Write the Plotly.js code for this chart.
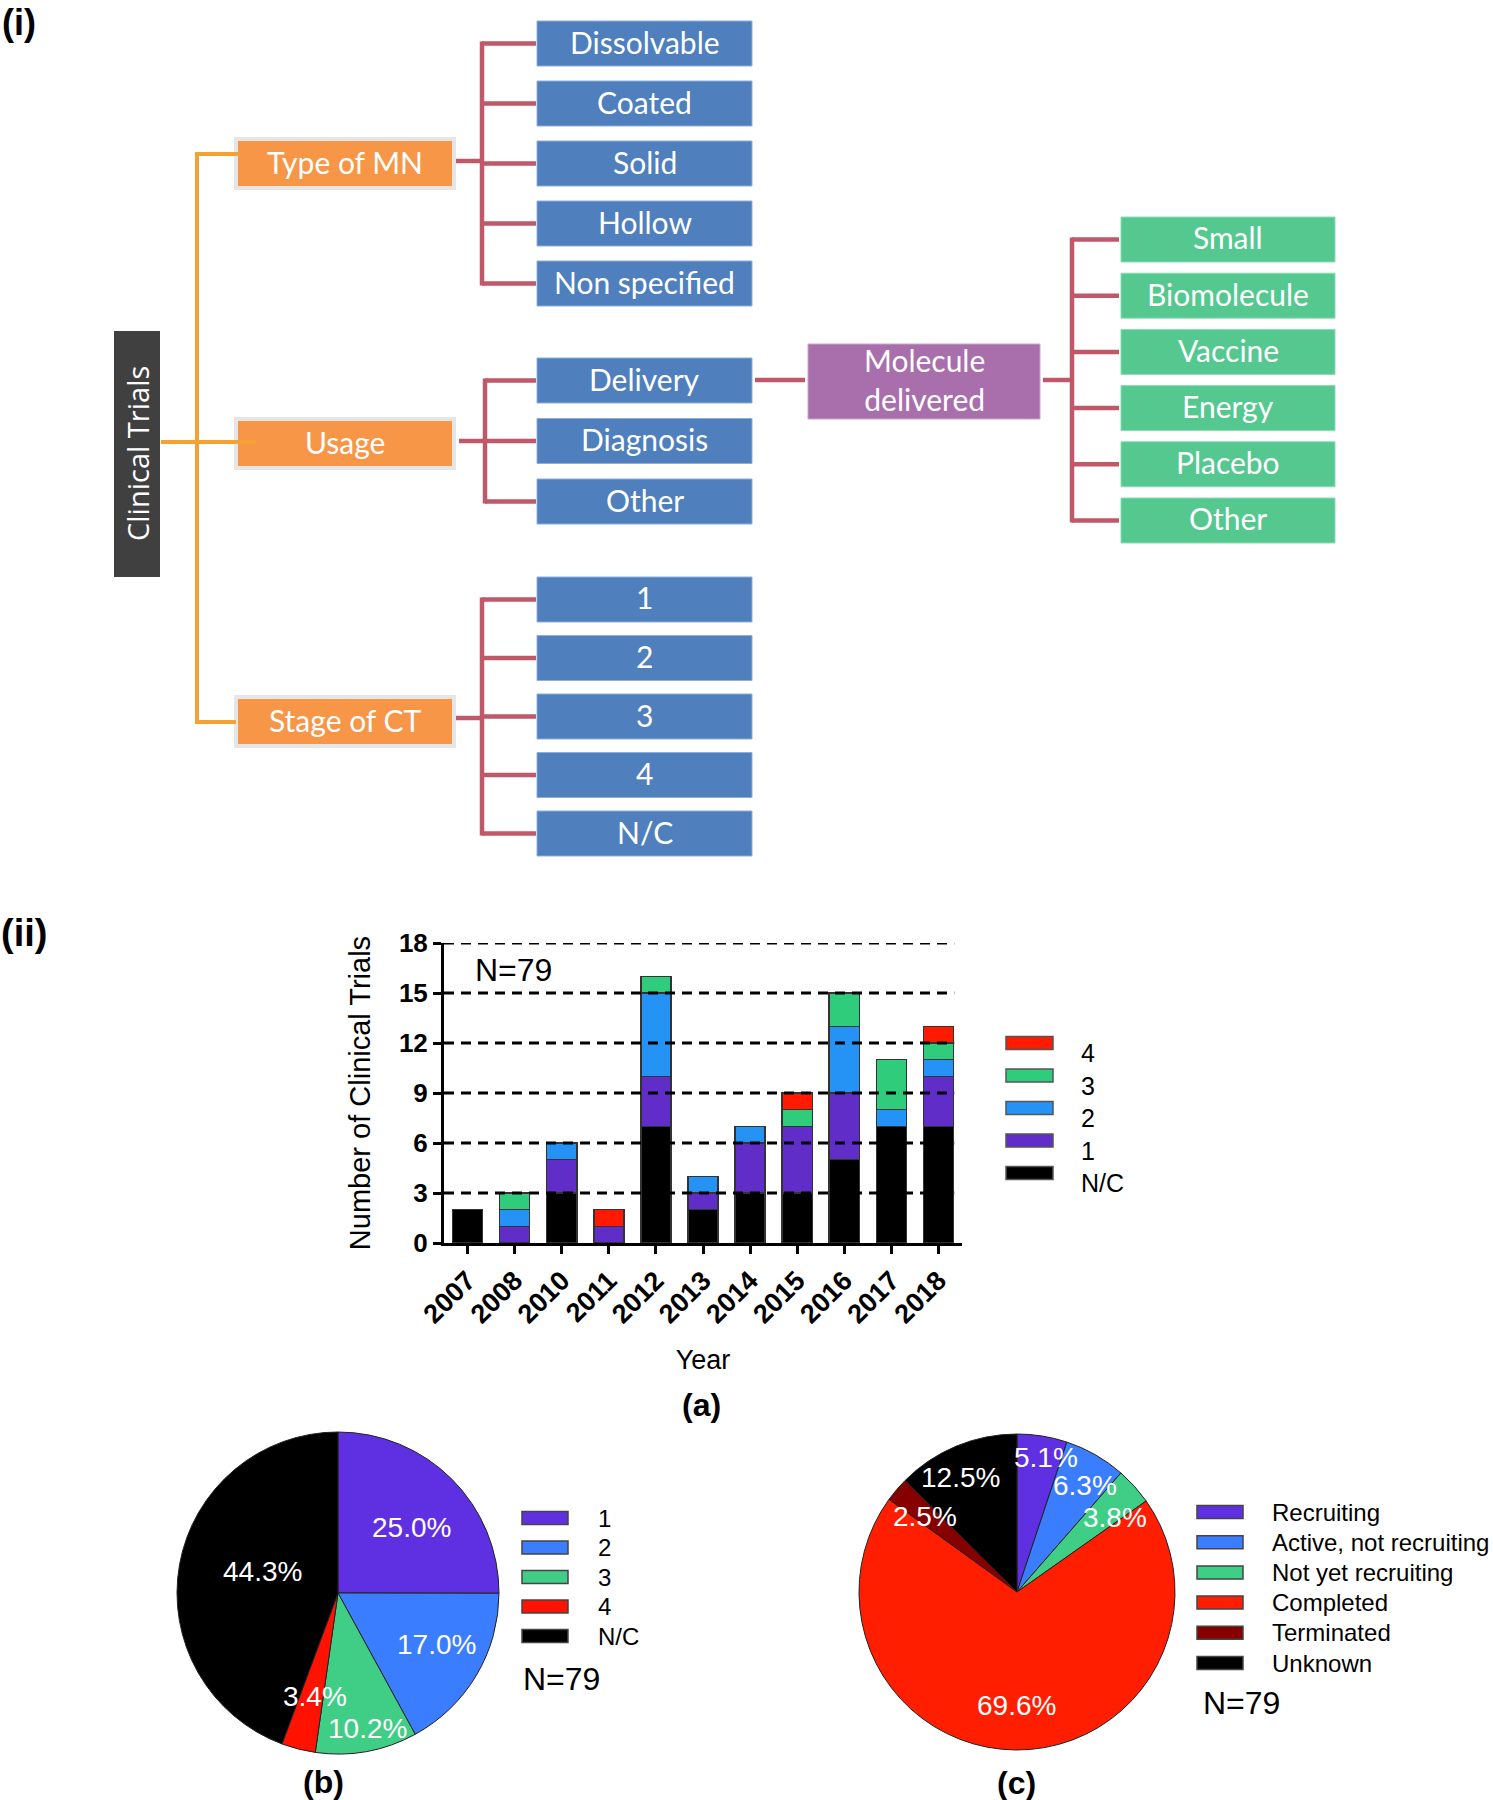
<!DOCTYPE html>
<html><head><meta charset="utf-8">
<script src="https://cdn.plot.ly/plotly-3.0.1.min.js"></script>
<style>html,body{margin:0;padding:0;background:#fff}</style>
</head><body>
<div id="chart" style="width:1493px;height:1800px"></div>
<script>
// ---------------- data ----------------
const years = ['2007','2008','2010','2011','2012','2013','2014','2015','2016','2017','2018'];
const stageNames = ['N/C','1','2','3','4'];
const stageNC = [2,0,3,0,7,2,3,3,5,7,7];
const stage1  = [0,1,2,1,3,1,3,4,4,0,3];
const stage2  = [0,1,1,0,5,1,1,0,4,1,1];
const stage3  = [0,1,0,0,1,0,0,1,2,3,1];
const stage4  = [0,0,0,1,0,0,0,1,0,0,1];
const yTicks = [0,3,6,9,12,15,18];
const pieBLabels = ['1','2','3','4','N/C'];
const pieBValues = [25.0,17.0,10.2,3.4,44.3];
const pieCLabels = ['Recruiting','Active, not recruiting','Not yet recruiting','Completed','Terminated','Unknown'];
const pieCValues = [5.1,6.3,3.8,69.6,2.5,12.5];
const nText = 'N=79';
const rootLabel = 'Clinical Trials';
const branches = ['Type of MN','Usage','Stage of CT'];
const typeItems = ['Dissolvable','Coated','Solid','Hollow','Non specified'];
const usageItems = ['Delivery','Diagnosis','Other'];
const stageItems = ['1','2','3','4','N/C'];
const moleculeLabel = 'Molecule<br>delivered';
const moleculeItems = ['Small','Biomolecule','Vaccine','Energy','Placebo','Other'];

// ---------------- styles ----------------
const barColors = ['#000000','#602DC8','#2592F5','#2ECC7B','#FF1A00'];
const pieBColors = ['#5F30E2','#3B7DFF','#40CE86','#FF1200','#000000'];
const pieCColors = ['#5F30E2','#3B7DFF','#40CE86','#FF1E00','#870000','#000000'];
// label placement inside the pies (radius fraction, angle nudge in degrees)
const pieBTextR  = [0.61,0.69,0.86,0.66,0.49];
const pieBTextDA = [3,-3,-2,-2,6];
const pieCTextR  = [0.87,0.80,0.78,0.72,0.75,0.81];
const pieCTextDA = [3,3,4.6,0,-1,-3.5];
const F = 'Liberation Sans, Arial, sans-serif';
const TF = 'Lato, Carlito, Calibri, sans-serif';

const W = 1493, H = 1800;
const X = p => p / W, Y = p => 1 - p / H;
const shapes = [], annotations = [];
function rect(x0,y0,x1,y1,fill,lineColor,lw){
  shapes.push({type:'rect',xref:'paper',yref:'paper',x0:X(x0),x1:X(x1),y0:Y(y1),y1:Y(y0),
    fillcolor:fill,line:{color:lineColor||fill,width:lw||0},layer:'above'});
}
function seg(x0,y0,x1,y1,color,w){
  shapes.push({type:'line',xref:'paper',yref:'paper',x0:X(x0),x1:X(x1),y0:Y(y0),y1:Y(y1),
    line:{color:color,width:w},layer:'above'});
}
function label(text,x,y,size,color,family,opts){
  annotations.push(Object.assign({text:text,x:X(x),y:Y(y),xref:'paper',yref:'paper',showarrow:false,
    font:{size:size,color:color,family:family},xanchor:'center',yanchor:'middle'},opts||{}));
}

// ---------------- (i) tree diagram ----------------
label('<b>(i)</b>',0,0,36,'#000',F,{xanchor:'left',yanchor:'top'});
const BLUE='#4F7FBD', BLUEB='#8DAEDB', ORANGE='#F79646', GREYB='#E6E6E6', MAROON='#BF5868', OLINE='#F4A233';
const GREEN='#55C890', PURPLE='#A86FAC';
rect(114,331,160,577,'#404040');
label(rootLabel,137,454,29,'#fff','Open Sans, Noto Sans, sans-serif',{textangle:-90});
const branchTops = [137,417,695];
branches.forEach((b,i)=>{
  const t = branchTops[i];
  rect(234,t,456,t+53,GREYB);
  rect(238,t+4,452,t+49,ORANGE);
  label(b,345,t+24.5,30,'#fff',TF);
});
function leaves(items,top0,step,x0,x1,fill,border){
  const centers=[];
  items.forEach((s,i)=>{
    const t = top0 + i*step;
    rect(x0,t,x1,t+45,fill,border,1);
    label(s,(x0+x1)/2,t+20.5,30,'#fff',TF);
    centers.push(t+22.5);
  });
  return centers;
}
const cType = leaves(typeItems,21,60,537,752,BLUE,BLUEB);
const cUse  = leaves(usageItems,358,60.5,537,752,BLUE,BLUEB);
const cStg  = leaves(stageItems,577,58.5,537,752,BLUE,BLUEB);
const cMol  = leaves(moleculeItems,217,56.2,1121,1335,GREEN,'#8BDDB5');
rect(808,344,1040,419,PURPLE,'#C9A3CB',1);
label(moleculeLabel,924,379,30,'#fff',TF);
seg(197,152,197,724,OLINE,4);
seg(195,154,240,154,OLINE,4);
seg(161,442,256,442,OLINE,4);
seg(195,722,236,722,OLINE,4);
function bracket(xFrom,xv,xTo,yIn,centers){
  seg(xFrom,yIn,xv,yIn,MAROON,4.5);
  seg(xv,centers[0]-2,xv,centers[centers.length-1]+2,MAROON,4.5);
  centers.forEach(c=>seg(xv,c,xTo,c,MAROON,4.5));
}
bracket(456,482,536,161,cType);
bracket(459,485,536,441,cUse);
bracket(456,482,536,718,cStg);
bracket(1043,1072,1119,380,cMol);
seg(755,380,805,380,MAROON,4.5);

// ---------------- (ii) bar chart ----------------
label('<b>(ii)</b>',24,933,38,'#000',F);
const stageData = [stageNC,stage1,stage2,stage3,stage4];
const traces = stageData.map((d,i)=>({
  type:'bar', x:years, y:d, name:stageNames[i], xaxis:'x', yaxis:'y',
  marker:{color:barColors[i], line:{color:'#333',width:1.5}},
  showlegend:false, hoverinfo:'skip'
}));
yTicks.filter(v=>v>0).forEach(v=>{
  shapes.push({type:'line',xref:'x domain',yref:'y',x0:0,x1:0.985,y0:v,y1:v,
    line:{color:'#000',width:3,dash:'10px,7px'},layer:'above'});
});
label(nText,513,970,32,'#000',F);
stageNames.slice().reverse().forEach((n,i)=>{
  const k = stageNames.length-1-i;
  const cy = 1043 + i*32.5;
  rect(1006,cy-6.5,1053,cy+6.5,barColors[k],'#555',1.5);
  label(n,1079,cy+10,25,'#000',F,{xanchor:'left'});
});
label('<b>(a)</b>',701,1405,32,'#000',F);

// ---------------- pies ----------------
function pieText(values,cx,cy,r,kArr,daArr){
  const tot = values.reduce((a,b)=>a+b,0);
  let acc = 0;
  values.forEach((v,i)=>{
    const mid = ((acc + v/2)/tot*360 + daArr[i]) * Math.PI/180;
    acc += v;
    label(v.toFixed(1)+'%', cx + kArr[i]*r*Math.sin(mid), cy - kArr[i]*r*Math.cos(mid), 28,'#fff',F);
  });
}
traces.push({type:'pie', labels:pieBLabels, values:pieBValues, sort:false, direction:'clockwise', rotation:0,
  domain:{x:[X(177),X(499)], y:[Y(1754),Y(1432)]}, textinfo:'none', hoverinfo:'skip', showlegend:false,
  marker:{colors:pieBColors, line:{color:'#222',width:1}}});
pieText(pieBValues,338,1593,161,pieBTextR,pieBTextDA);
pieBLabels.forEach((n,i)=>{
  const cy = 1518 + i*29.5;
  rect(522,cy-6.5,568,cy+6.5,pieBColors[i],'#444',1.5);
  label(n,596,cy,24,'#000',F,{xanchor:'left'});
});
label(nText,521,1679,32,'#000',F,{xanchor:'left'});
label('<b>(b)</b>',323,1782,32,'#000',F);

traces.push({type:'pie', labels:pieCLabels, values:pieCValues, sort:false, direction:'clockwise', rotation:0,
  domain:{x:[X(859),X(1175)], y:[Y(1750),Y(1434)]}, textinfo:'none', hoverinfo:'skip', showlegend:false,
  marker:{colors:pieCColors, line:{color:'#222',width:1}}});
pieText(pieCValues,1017,1592,158,pieCTextR,pieCTextDA);
pieCLabels.forEach((n,i)=>{
  const cy = 1512 + i*30.2;
  rect(1197,cy-6.5,1243,cy+6.5,pieCColors[i],'#444',1.5);
  label(n,1270,cy,24,'#000',F,{xanchor:'left'});
});
label(nText,1201,1703,32,'#000',F,{xanchor:'left'});
label('<b>(c)</b>',1016,1783,32,'#000',F);

const layout = {
  width:W, height:H, autosize:false,
  margin:{l:0,r:0,t:0,b:0},
  paper_bgcolor:'#fff', plot_bgcolor:'rgba(0,0,0,0)',
  barmode:'stack', bargap:0.36,
  font:{family:F,color:'#000'},
  xaxis:{domain:[X(444),X(962)], anchor:'y', type:'category', range:[-0.5,10.5],
    tickangle:-45, ticks:'outside', ticklen:8, tickwidth:3, tickcolor:'#000',
    showline:true, linewidth:3, linecolor:'#000', showgrid:false, zeroline:false,
    tickfont:{family:F,size:27,weight:'bold',color:'#000'},
    title:{text:'Year', font:{family:F,size:27,color:'#000'}, standoff:22}, fixedrange:true},
  yaxis:{domain:[Y(1243),Y(943)], anchor:'x', range:[0,18], tickvals:yTicks,
    ticks:'outside', ticklen:8, tickwidth:3, tickcolor:'#000',
    showline:true, linewidth:3, linecolor:'#000', showgrid:false, zeroline:false,
    tickfont:{family:F,size:26,weight:'bold',color:'#000'},
    title:{text:'Number of Clinical Trials', font:{family:F,size:29,color:'#000'}, standoff:20}, fixedrange:true},
  shapes:shapes, annotations:annotations
};
Plotly.newPlot('chart', traces, layout, {staticPlot:true, displayModeBar:false});
</script>
</body></html>
